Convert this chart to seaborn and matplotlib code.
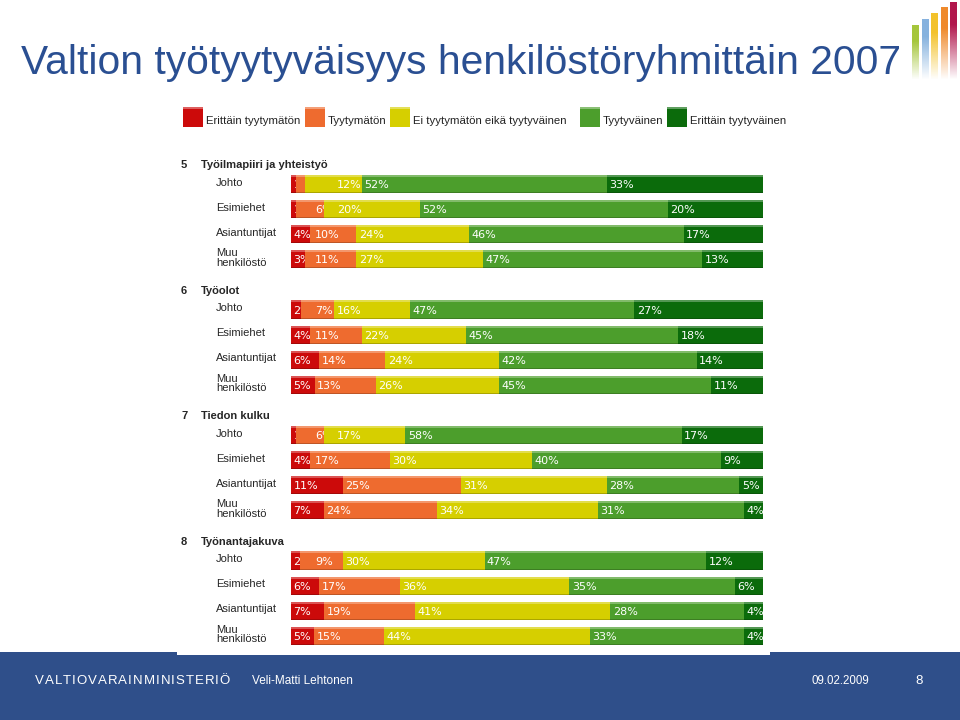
import numpy as np
import pandas as pd
import matplotlib
matplotlib.use("Agg")
import matplotlib.pyplot as plt
from matplotlib.patches import Rectangle
from matplotlib.transforms import Bbox, TransformedBbox
import seaborn as sns

title = "Valtion työtyytyväisyys henkilöstöryhmittäin 2007"
section_numbers = ["5", "6", "7", "8"]
sections = ["Työilmapiiri ja yhteistyö", "Työolot", "Tiedon kulku", "Työnantajakuva"]
groups = ["Johto", "Esimiehet", "Asiantuntijat", "Muu\nhenkilöstö"]
answers = ["Erittäin tyytymätön", "Tyytymätön", "Ei tyytymätön eikä tyytyväinen",
           "Tyytyväinen", "Erittäin tyytyväinen"]

# % per group (rows) and answer (columns)
ilmapiiri = [[1, 2, 12, 52, 33], [1, 6, 20, 52, 20], [4, 10, 24, 46, 17], [3, 11, 27, 47, 13]]
tyoolot = [[2, 7, 16, 47, 27], [4, 11, 22, 45, 18], [6, 14, 24, 42, 14], [5, 13, 26, 45, 11]]
tiedonkulku = [[1, 6, 17, 58, 17], [4, 17, 30, 40, 9], [11, 25, 31, 28, 5], [7, 24, 34, 31, 4]]
tyonantajakuva = [[2, 9, 30, 47, 12], [6, 17, 36, 35, 6], [7, 19, 41, 28, 4], [5, 15, 44, 33, 4]]

ministry = "VALTIOVARAINMINISTERIÖ"
author = "Veli-Matti Lehtonen"
date = "09.02.2009"
page = "8"

colors = ["#cc0a0a", "#ee6b2f", "#d6cf00", "#4c9e2c", "#0b6b0b"]
blue = "#2a4f92"


def mix(c, other, f):
    c = np.array(matplotlib.colors.to_rgb(c))
    return tuple(c * (1 - f) + np.array(other) * f)


def main():
    sns.set_theme(style="white")
    plt.rcParams["font.family"] = ["Liberation Sans", "DejaVu Sans"]

    # long table: one row per segment, widths scaled to a full 100 % bar
    rows = []
    for s, table in enumerate([ilmapiiri, tyoolot, tiedonkulku, tyonantajakuva]):
        for r, vals in enumerate(table):
            total = sum(vals)
            left = 0.0
            for k, v in enumerate(vals):
                w = v * 100 / total
                rows.append(dict(section=s, group=r, y=s * 5 + r + 1, answer=answers[k],
                                 k=k, value=v, left=left, right=left + w))
                left += w
    df = pd.DataFrame(rows)

    fig = plt.figure(figsize=(9.6, 7.2), dpi=100)
    renderer = fig.canvas.get_renderer()

    # background layer in pixel coordinates
    bg = fig.add_axes([0, 0, 1, 1], zorder=0)
    bg.add_patch(Rectangle((0, 652), 960, 68, color="#2f4f8a", lw=0))
    bg.add_patch(Rectangle((177, 95), 593, 560, color="white", lw=0))
    bg.text(21, 63, title, fontsize=29.3, color=blue, va="center", ha="left")

    # logo bars top right
    logo = [(912, 25, "#a5c63b"), (922, 19, "#86b2de"), (931, 13, "#f3c22b"),
            (941, 7, "#ef8a2c"), (950, 2, "#b1164c")]
    for x0, top, c in logo:
        rgb = matplotlib.colors.to_rgb(c)
        n = 60
        img = np.zeros((n, 1, 4))
        img[:, 0, :3] = rgb
        img[:, 0, 3] = np.clip(np.linspace(1.4, 0, n), 0, 1)
        bg.imshow(img, extent=(x0, x0 + 6.5, 80, top), aspect="auto", interpolation="bilinear")

    # legend
    leg_x = [183, 305, 390, 580, 667]
    for x0, c, a in zip(leg_x, colors, answers):
        bg.add_patch(Rectangle((x0, 107), 20, 20, color=c, lw=0))
        bg.add_patch(Rectangle((x0, 107), 20, 2, color=mix(c, (1, 1, 1), 0.35), lw=0))
        bg.text(x0 + 23, 121, a, fontsize=8.2, va="center", ha="left", color="#222222")

    # footer, letter-spaced ministry name
    letters = [bg.text(0, 681, ch, fontsize=9.5, color="white", ha="left", va="center")
               for ch in ministry]
    widths = [t.get_window_extent(renderer).width for t in letters]
    track = (195 - sum(widths)) / (len(letters) - 1)
    x = 35
    for t, w in zip(letters, widths):
        t.set_x(x)
        x += w + track
    bg.text(252, 681, author, fontsize=8.5, color="white", va="center")
    bg.text(812, 681, date, fontsize=8.3, color="white", va="center")
    bg.text(915, 681, page, fontsize=9.5, color="white", va="center")

    bg.set_xlim(0, 960)
    bg.set_ylim(720, 0)
    bg.axis("off")

    # chart: stacked bars drawn as cumulative totals, last answer first
    ax = fig.add_axes([177 / 960, 1 - 655 / 720, 593 / 960, 560 / 720], zorder=1)
    for k in reversed(range(len(answers))):
        sub = df[df["k"] == k]
        sns.barplot(data=sub, x="right", y="y", orient="y", native_scale=True,
                    color=colors[k], saturation=1, width=0.72, errorbar=None,
                    linewidth=0, ax=ax)
    # light top edge and dark bottom edge on every segment
    for k in reversed(range(len(answers))):
        sub = df[df["k"] == k].assign(top=lambda d: d["y"] - 0.32, bot=lambda d: d["y"] + 0.34)
        sns.barplot(data=sub, x="right", y="top", orient="y", native_scale=True,
                    color=mix(colors[k], (1, 1, 1), 0.3), saturation=1, width=0.08,
                    errorbar=None, linewidth=0, ax=ax)
        sns.barplot(data=sub, x="right", y="bot", orient="y", native_scale=True,
                    color=mix(colors[k], (0, 0, 0), 0.2), saturation=1, width=0.04,
                    errorbar=None, linewidth=0, ax=ax)

    # value labels: start of segment, but kept a label's width after the previous one
    for (s, r), seg in df.groupby(["section", "group"]):
        prev = -100
        for _, row in seg.iterrows():
            y = row["y"]
            lx = max(row["left"] + 0.5, prev + 4.6)
            prev = lx
            if lx >= row["right"] - 0.3:
                continue
            t = ax.text(lx, y + 0.04, f"{row['value']}%", color="white",
                        fontsize=8, family="DejaVu Sans", va="center", ha="left")
            clip = TransformedBbox(Bbox([[row["left"], y - 0.36], [row["right"], y + 0.36]]),
                                   ax.transData)
            t.set_clip_box(clip)
            t.set_clip_on(True)

    for s in range(len(sections)):
        ax.text(-23.3, s * 5 + 0.25, section_numbers[s], fontsize=8, fontweight="bold", va="center")
        ax.text(-19.07, s * 5 + 0.25, sections[s], fontsize=8, fontweight="bold", va="center")
        for r, g in enumerate(groups):
            ax.text(-15.9, s * 5 + r + 1 - 0.05, g, fontsize=8, va="center", linespacing=0.95)

    ax.set_xlim(-24.15, 101.48)
    ax.set_ylim(19.765, -2.546)
    ax.axis("off")

    plt.savefig("out.png", dpi=100)


if __name__ == "__main__":
    main()
